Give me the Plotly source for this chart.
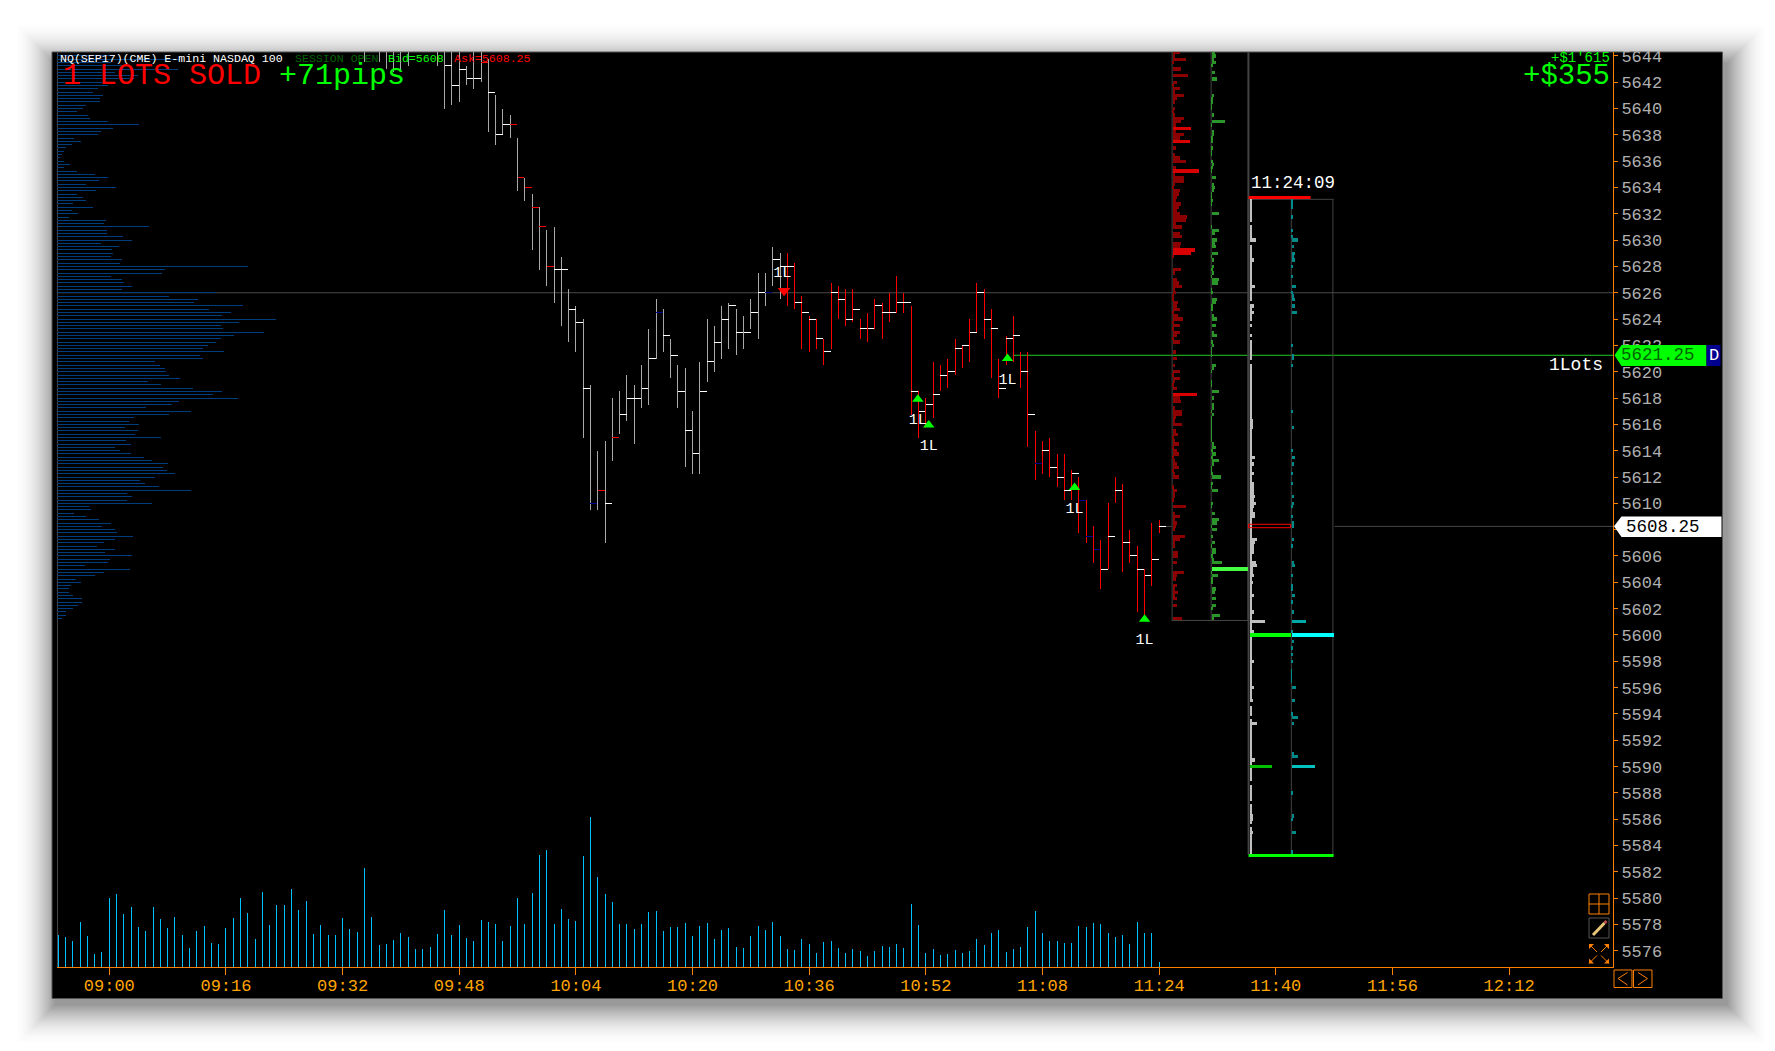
import plotly.graph_objects as go

# ---------- data ----------
TITLE = "NQ(SEP17)(CME) E-mini NASDAQ 100"
XTICK_MIN = [0, 16, 32, 48, 64, 80, 96, 112, 128, 144, 160, 176, 192]
XTICK_LBL = ["09:00", "09:16", "09:32", "09:48", "10:04", "10:20", "10:36", "10:52", "11:08", "11:24", "11:40", "11:56", "12:12"]
YTICKS = [5644, 5642, 5640, 5638, 5636, 5634, 5632, 5630, 5628, 5626, 5624, 5622, 5620, 5618, 5616, 5614, 5612, 5610, 5608,
          5606, 5604, 5602, 5600, 5598, 5596, 5594, 5592, 5590, 5588, 5586, 5584, 5582, 5580, 5578, 5576]

# minutes after 09:00
BAR_MIN = [35, 37, 38, 39, 40, 41, 45] + list(range(46, 145))
BAR_HIGH = [5646, 5646, 5646, 5646, 5646, 5646, 5646,
    5646, 5646, 5646, 5643.25, 5646, 5646, 5643.75, 5641, 5640, 5639.5, 5637.75, 5634.75, 5633.5, 5632.5, 5630.75, 5631,
    5628.75, 5626.25, 5625, 5624, 5619, 5614, 5614.75, 5618, 5618.5, 5619.75, 5619, 5620.5, 5623.25, 5625.5, 5624.75,
    5622.5, 5620.5, 5620.25, 5617, 5620.75, 5624, 5623.5, 5625, 5625.25, 5624.75, 5624.25, 5625.5, 5627.5, 5627.5, 5629.5,
    5629, 5629, 5628.25, 5625.75, 5624.25, 5624, 5622.5, 5626.75, 5626.5, 5626.25, 5626.25, 5624, 5624.5, 5625.5, 5625.25,
    5626, 5627.25, 5626, 5625, 5618.5, 5618, 5620.75, 5620.5, 5621, 5622.5, 5622, 5624, 5626.75, 5626.25, 5624.75, 5621,
    5622.75, 5624.25, 5621.5, 5621.5, 5615.5, 5614.75, 5615, 5613.75, 5613.75, 5612.5, 5612, 5610.25, 5608.25, 5607.25,
    5610, 5612, 5611.5, 5608, 5606.75, 5605, 5608.5, 5608.75]
BAR_LOW = [5643.5, 5643.5, 5643, 5642.75, 5642.75, 5643.25, 5643.25,
    5640, 5640.25, 5640.5, 5641.75, 5641.5, 5642, 5638.25, 5637.25, 5638, 5637.75, 5633.75, 5633, 5629.25, 5627.75, 5626.5,
    5625.25, 5623.5, 5622.25, 5621.5, 5615, 5609.5, 5609.5, 5607, 5613.25, 5615.25, 5616.25, 5614.5, 5617.25, 5617.5, 5621,
    5621.5, 5619.5, 5617.25, 5612.75, 5612.25, 5612.25, 5619.25, 5620, 5621, 5621.75, 5621.25, 5621.75, 5623.25, 5622.5,
    5625, 5626.5, 5625.5, 5625, 5624.75, 5621.75, 5621.5, 5621.75, 5620.5, 5621.75, 5624, 5623.5, 5623.75, 5622.5, 5622.25,
    5623.25, 5622.5, 5623.75, 5624.5, 5624.5, 5616.75, 5615, 5615.75, 5616.5, 5618.5, 5618.75, 5619.75, 5620.25, 5620.75,
    5623, 5622.5, 5619.5, 5618, 5620.5, 5620.75, 5618.75, 5614.25, 5611.75, 5612.25, 5612, 5611.25, 5610.25, 5610.25,
    5607.75, 5607, 5605.5, 5603.5, 5605, 5610, 5604.75, 5605.5, 5601.75, 5601.25, 5603.75, 5607.75]
BAR_CLOSE = [5645, 5645, 5645, 5645, 5645, 5645, 5645,
    5643.25, 5641.75, 5643, 5642.25, 5642.25, 5643.5, 5641.25, 5638, 5638.75, 5638.75, 5634.75, 5634, 5632.5, 5631, 5628,
    5627.75, 5627.75, 5624.75, 5623.75, 5618.75, 5610, 5611, 5610, 5615, 5616.75, 5618, 5618, 5618.75, 5621, 5624.5, 5622.75,
    5621.25, 5618.5, 5615.5, 5613.75, 5618.5, 5620.75, 5622.25, 5624, 5625, 5623, 5623, 5624.5, 5626, 5626, 5628.5, 5628,
    5628, 5625.25, 5624.5, 5624, 5622.5, 5621.5, 5626, 5625.5, 5624, 5624.75, 5623.25, 5623.25, 5625, 5624.5, 5624.5, 5625.25,
    5625.25, 5618.5, 5617, 5617.5, 5618.25, 5619.75, 5620, 5621.75, 5622, 5623, 5626, 5624, 5623.25, 5618.75, 5622.5, 5622.75,
    5620, 5616.75, 5613, 5614, 5612.75, 5612, 5611, 5612.25, 5610.25, 5607.5, 5606.5, 5605, 5607.5, 5611, 5607, 5606, 5605,
    5604.5, 5605.75, 5608.25]
RED_CLOSE_MIN = [51, 55, 56, 57, 58, 59, 60, 67, 69]
BLUE_CLOSE_MIN = [66, 75, 90, 127, 133, 134, 135]
RED_BAR_FROM_MIN = 93

VOL_FIRST_MIN = -7
VOLUME = [96, 90, 78, 135, 93, 39, 45, 207, 219, 159, 180, 120, 108, 180, 144, 117, 150, 96, 57, 108, 123, 72, 69, 117, 147, 207,
    162, 84, 225, 126, 186, 186, 234, 171, 198, 99, 126, 96, 96, 147, 114, 105, 297, 150, 66, 69, 81, 102, 90, 54, 54, 60, 99, 171,
    96, 126, 87, 78, 141, 135, 129, 78, 123, 207, 129, 222, 336, 351, 129, 174, 144, 138, 333, 450, 270, 219, 195, 129, 129, 114,
    129, 165, 168, 108, 120, 120, 132, 93, 123, 132, 84, 111, 117, 60, 57, 93, 123, 111, 135, 93, 54, 51, 84, 69, 42, 75, 78, 57,
    42, 54, 48, 33, 48, 63, 60, 69, 57, 189, 126, 42, 54, 36, 39, 51, 42, 48, 84, 66, 102, 111, 45, 54, 60, 120, 168, 102, 78, 78,
    72, 72, 123, 120, 132, 129, 102, 90, 96, 69, 135, 102, 102, 15]

# session volume profile, one value per 0.25 price row
SESSION_TOP = 5644.0
SESSION_PROFILE = [175, 370, 163, 209, 364, 175, 243, 230, 154, 154, 124, 109, 137, 130, 130, 88, 79, 61, 94, 100, 154, 245, 169, 133,
    124, 52, 73, 44, 28, 20, 15, 8, 22, 40, 22, 61, 113, 154, 127, 88, 176, 118, 59, 79, 88, 49, 109, 46, 64, 37, 148, 142, 277,
    151, 151, 199, 226, 133, 187, 166, 169, 163, 196, 190, 574, 325, 316, 163, 196, 202, 226, 196, 478,
    337, 424, 412, 559, 457, 523, 496, 658, 547, 493, 499, 622, 532, 493, 478, 454, 439, 502, 430, 439, 295, 310, 325, 328, 337,
    370, 274, 313, 409, 496, 469, 544, 367, 346, 268, 403, 337, 232, 217, 247, 205, 244, 235, 313, 208, 223, 175, 190, 223, 262,
    286, 334, 319, 331, 355, 295, 250, 265, 307, 403, 211, 226, 211, 286, 97, 103, 52, 88, 127, 163, 136, 175, 181, 229, 175, 142,
    121, 175, 145, 226, 160, 154, 85, 220, 142, 115, 58, 73, 43, 37, 37, 49, 76, 76, 64, 49, 28, 28, 16]

PREV_TOP = 5644.25
PREV_SELL = [22, 8, 39, 4, 0, 24, 0, 45, 0, 12, 4, 21, 8, 33, 12, 6, 0, 6, 4, 8, 33, 24, 9, 54, 9, 33, 21, 51, 0, 10,
    0, 6, 21, 39, 0, 10, 78, 6, 33, 33, 6, 5, 21, 18, 12, 9, 24, 18, 12, 21, 42, 39, 9, 27, 0, 21, 27, 0, 24, 21,
    66, 54, 3, 0, 0, 0, 24, 6, 0, 12, 18, 27, 6, 9, 3, 3, 15, 12, 21, 3, 15, 30, 3, 21, 3, 21, 12, 3, 21, 0,
    0, 10, 0, 12, 0, 6, 0, 21, 3, 21, 6, 3, 12, 0, 72, 21, 24, 0, 6, 27, 27, 9, 6, 27, 0, 9, 15, 3, 6, 18,
    3, 12, 18, 3, 6, 12, 18, 3, 6, 18, 0, 0, 3, 12, 6, 6, 3, 0, 39, 0, 6, 21, 6, 12, 9, 6, 0, 36, 21, 6,
    6, 0, 15, 15, 0, 12, 0, 0, 33, 12, 9, 0, 12, 6, 15, 6, 12, 0, 12, 0, 0, 0, 27]
PREV_BUY = [9, 12, 6, 12, 3, 0, 9, 0, 15, 0, 0, 0, 0, 6, 3, 2, 1, 1, 0, 6, 0, 39, 1, 0, 6, 6, 2, 3, 0, 3,
    1, 1, 0, 3, 6, 3, 1, 0, 12, 0, 6, 9, 6, 1, 1, 3, 1, 0, 0, 21, 0, 0, 0, 1, 21, 9, 0, 15, 9, 12,
    0, 18, 1, 6, 0, 6, 3, 6, 1, 21, 18, 0, 1, 3, 0, 15, 12, 3, 3, 0, 6, 15, 0, 12, 0, 6, 15, 0, 3, 6,
    1, 1, 1, 0, 0, 12, 6, 1, 0, 0, 1, 1, 0, 21, 0, 6, 0, 6, 6, 1, 6, 1, 1, 1, 1, 1, 1, 1, 1, 6,
    12, 3, 12, 3, 21, 6, 1, 1, 3, 27, 0, 3, 1, 18, 0, 0, 0, 3, 1, 0, 9, 0, 21, 15, 1, 15, 0, 3, 0, 9,
    1, 12, 12, 3, 6, 30, 0, 108, 1, 18, 3, 3, 0, 12, 9, 0, 12, 0, 12, 3, 0, 24, 6]

CUR_TOP = 5633.0
CUR_TOTAL = [6, 6, 6, 6, 6, 6, 6, 0, 6, 6, 6, 6, 18, 0, 6, 6, 6, 6, 12, 6, 6, 6, 6, 6, 6, 6, 15, 6, 6, 6, 6, 0, 12, 6, 12, 6, 6, 0, 6,
    0, 0, 6, 0, 6, 6, 6, 6, 6, 6, 0, 6, 6, 6, 6, 6, 6, 6, 6, 6, 6, 6, 6, 6, 6, 6, 6, 6, 9, 9, 9, 6, 6, 6, 6, 6, 6, 6, 6, 15, 6, 12, 6, 6,
    12, 6, 6, 12, 12, 12, 12, 15, 12, 18, 12, 9, 15, 15, 6, 6, 6, 6, 6, 6, 21, 15, 12, 12, 12, 6, 6, 18, 21, 9, 9, 12, 6, 9, 6, 6, 6, 12,
    6, 6, 6, 6, 12, 6, 6, 45, 6, 6, 12, 123, 6, 6, 6, 6, 6, 6, 6, 12, 6, 6, 6, 6, 6, 6, 6, 12, 6, 6, 6, 9, 0, 6, 6, 6, 0, 6, 21,
    6, 6, 6, 6, 6, 6, 6, 6, 6, 6, 15, 6, 66, 6, 6, 6, 6, 0, 6, 6, 6, 6, 6, 0, 6, 6, 6, 9, 9, 6, 0, 6, 9, 6, 6, 6, 6, 6, 6, 6]
CUR_BUY_PRICE = [5633, 5632.75, 5632.5, 5631.75, 5630.75, 5630.25, 5630, 5629.5, 5629, 5628.75, 5628.5, 5628, 5627.25, 5626.5, 5626,
    5625.75, 5625.5, 5625, 5624.5, 5622, 5621.25, 5621, 5620.5, 5617, 5615.75, 5614, 5613.5, 5613, 5612.25, 5611.5, 5610.5, 5610,
    5609.75, 5609, 5608.5, 5608.25, 5607.25, 5606.75, 5605.5, 5605.25, 5604.5, 5603.75, 5603.5, 5603, 5602.5, 5601.75, 5601, 5600.25,
    5600, 5599.5, 5599, 5598.5, 5598, 5597.25, 5597, 5596.75, 5596.5, 5596, 5595, 5594, 5593.75, 5593.25, 5591, 5590.75, 5590, 5588,
    5586.25, 5586, 5585, 5583.5]
CUR_BUY = [3, 3, 3, 3, 3, 3, 18, 6, 9, 6, 9, 3, 3, 12, 3, 6, 9, 9, 15, 3, 6, 6, 3, 3, 6, 3, 9, 6, 3, 3, 6, 6,
    3, 3, 6, 6, 6, 3, 6, 9, 3, 3, 3, 9, 3, 6, 42, 3, 126, 6, 3, 3, 3, 1, 1, 1, 1, 12, 9, 3, 18, 6, 6, 18, 69, 3, 6, 3, 12, 3]

BUY_MARK_MIN = [110.9, 112.4, 123.2, 132.4, 142]
BUY_MARK_PRICE = [5617.9, 5615.95, 5621, 5611.2, 5601.2]
LOT_LABEL_MIN = [110.9, 112.4, 123.2, 132.4, 142, 92.3]
LOT_LABEL_PRICE = [5616.3, 5614.35, 5619.35, 5609.56, 5599.6, 5627.5]
SELL_MARK_MIN = [92.55]
SELL_MARK_PRICE = [5626.15]
ENTRY_PRICE = 5621.25
LAST_PRICE = 5608.25
REF_PRICE = 5626

# ---------- layout constants ----------
W, H = 1775, 1051
L, R, T, B = 57.0, 1613.5, 52.0, 967.0
PW, PH = R - L, B - T
FONT = "Liberation Mono"
def xp(x): return (x - L) / PW
def yp(y): return (B - y) / PH
def x3(x): return (x - L) * 3

ROW = 0.25
traces = []

def segments(x_pairs, y_pairs):
    xs, ys = [], []
    for (a, b), (c, d) in zip(x_pairs, y_pairs):
        xs += [a, b, None]
        ys += [c, d, None]
    return xs, ys

def seg_trace(x_pairs, y_pairs, color, xa="x", ya="y"):
    xs, ys = segments(x_pairs, y_pairs)
    traces.append(go.Scatter(x=xs, y=ys, mode="lines", line=dict(color=color, width=1, simplify=False),
                             xaxis=xa, yaxis=ya, hoverinfo="skip", connectgaps=False))

# session profile
rows = [SESSION_TOP - i * ROW for i in range(len(SESSION_PROFILE))]
seg_trace([(0, v) for v in SESSION_PROFILE], [(p, p) for p in rows], "#003D7D", xa="x3")

# order-flow profiles
def prof(vals, top, base_px, colors):
    prices = [top - i * ROW for i in range(len(vals))]
    traces.append(go.Bar(orientation="h", x=vals, y=prices, base=x3(base_px), width=ROW,
        marker=dict(color=colors, line_width=0), xaxis="x3", yaxis="y", hoverinfo="skip"))

prof(PREV_SELL, PREV_TOP, 1173, ["#D80000" if v >= 50 else "#8B0000" for v in PREV_SELL])
prof(PREV_BUY, PREV_TOP, 1212, ["#44FF44" if v >= 100 else "#2A962A" for v in PREV_BUY])
prof(CUR_TOTAL, CUR_TOP, 1250, ["#00FF00" if v >= 100 else "#00BE00" if v == 66 else "#C0C0C0" for v in CUR_TOTAL])
cur_cols = ["#00FFFF" if v >= 100 else "#00C0C0" if v >= 60 else "#00A8A8" if v >= 40 else "#008B8B" for v in CUR_BUY]
traces.append(go.Bar(orientation="h", x=CUR_BUY, y=CUR_BUY_PRICE, base=x3(1292), width=ROW,
    marker=dict(color=cur_cols, line_width=0), xaxis="x3", yaxis="y", hoverinfo="skip"))

# volume
vm = [VOL_FIRST_MIN + i for i in range(len(VOLUME))]
seg_trace([(m, m) for m in vm], [(0, v) for v in VOLUME], "#00BFFF", ya="y2")

# price bars
for color, test in (("#A8A8A8", lambda m: m < RED_BAR_FROM_MIN), ("#FF0000", lambda m: m >= RED_BAR_FROM_MIN)):
    idx = [i for i, m in enumerate(BAR_MIN) if test(m)]
    seg_trace([(BAR_MIN[i], BAR_MIN[i]) for i in idx], [(BAR_LOW[i], BAR_HIGH[i]) for i in idx], color)
for color, test in (("#FFFFFF", lambda m: m not in RED_CLOSE_MIN and m not in BLUE_CLOSE_MIN),
                    ("#FF0000", lambda m: m in RED_CLOSE_MIN), ("#000090", lambda m: m in BLUE_CLOSE_MIN)):
    idx = [i for i, m in enumerate(BAR_MIN) if test(m)]
    seg_trace([(BAR_MIN[i], BAR_MIN[i] + 0.95) for i in idx], [(BAR_CLOSE[i], BAR_CLOSE[i]) for i in idx], color)

# trade markers
traces.append(go.Scatter(x=BUY_MARK_MIN, y=BUY_MARK_PRICE, mode="markers",
    marker=dict(symbol="triangle-up", size=10, color="#00FF00", line_width=0), xaxis="x", yaxis="y", hoverinfo="skip"))
traces.append(go.Scatter(x=SELL_MARK_MIN, y=SELL_MARK_PRICE, mode="markers",
    marker=dict(symbol="triangle-down", size=11, color="#FF0000", line_width=0), xaxis="x", yaxis="y", hoverinfo="skip"))
traces.append(go.Scatter(x=LOT_LABEL_MIN, y=LOT_LABEL_PRICE, mode="text", text=["1L"] * len(LOT_LABEL_MIN),
    textfont=dict(family=FONT, size=15, color="#FFFFFF"), xaxis="x", yaxis="y", hoverinfo="skip"))

fig = go.Figure(traces)

# ---------- shapes ----------
shapes = []
# soft drop shadow
N = 40
for i in range(N):
    g = 48 * (1 - i / N)
    a = 0.0004 + 0.03 * (i / N) ** 1.6
    shapes.append(dict(type="rect", xref="paper", yref="paper", layer="below", x0=xp(56 - g), x1=xp(1727 + g),
        y0=yp(64 - g), y1=yp(1004 + g), line_width=0, fillcolor=f"rgba(0,0,0,{a:.4f})"))
shapes.append(dict(type="rect", xref="paper", yref="paper", layer="below", x0=xp(52), x1=xp(1723), y0=yp(52), y1=yp(998.5),
    line=dict(color="#555555", width=1), fillcolor="#000000"))

def hline(p, x0, x1, color, width=1):
    shapes.append(dict(type="line", xref="x3", yref="y", layer="below", x0=x3(x0), x1=x3(x1), y0=p, y1=p,
                       line=dict(color=color, width=width)))
def vline(x, p0, p1, color="#444444", width=1):
    shapes.append(dict(type="line", xref="x3", yref="y", layer="below", x0=x3(x), x1=x3(x), y0=p0, y1=p1,
                       line=dict(color=color, width=width)))
YTOP, YBOT = 5644.293, 5574.77
vline(57.5, YTOP, YBOT)
hline(REF_PRICE, 57, R, "#4A4A4A")
hline(ENTRY_PRICE, 1013, R, "#22CC22")
hline(LAST_PRICE, 1335, R, "#4A4A4A")
hline(LAST_PRICE, 1160, 1172, "#4A4A4A")
vline(1172.5, YTOP, 5601.1)
vline(1211.5, YTOP, 5601.1)
vline(1248.8, YTOP, 5601.1, width=2)
hline(5601.1, 1172, 1249, "#444444")
vline(1249, 5633.1, 5583.3, width=2)
vline(1291.7, 5633.1, 5583.3)
vline(1333.3, 5633.1, 5583.3)
hline(5633.1, 1249, 1334, "#444444")
hline(5583.3, 1249, 1334, "#444444")

def above(s): shapes.append(dict(layer="above", **s))
def path(points, close=False):
    s = "M " + " L ".join(f"{xp(x):.5f} {yp(y):.5f}" for x, y in points)
    return s + (" Z" if close else "")
def poly(points, fill=None, line=None, width=1):
    above(dict(type="path", xref="paper", yref="paper", path=path(points, fill is not None),
               fillcolor=fill if fill else "rgba(0,0,0,0)", line=dict(color=line if line else "rgba(0,0,0,0)", width=width if line else 0)))
# current-session caps and last-price marker
poly([(1249, 197.5), (1311, 197.5)], line="#FF0000", width=3)
poly([(1249, 855.5), (1334, 855.5)], line="#00FF00", width=3)
poly([(1249, 524.3), (1291, 524.3), (1291, 527.7), (1249, 527.7), (1249, 524.3)], line="#FF0000", width=1)
# price tags
poly([(1615, 355.3), (1622, 345), (1707, 345), (1707, 366), (1622, 366)], fill="#00FF00")
poly([(1707, 345), (1721, 345), (1721, 366), (1707, 366)], fill="#000090")
poly([(1614.5, 526.3), (1622, 516.5), (1722, 516.5), (1722, 537), (1622, 537)], fill="#FFFFFF")
# tool icons
O = "#FF8000"
poly([(1589.5, 894), (1609.5, 894), (1609.5, 914), (1589.5, 914), (1589.5, 894)], line=O)
poly([(1599.5, 894), (1599.5, 914)], line=O)
poly([(1589.5, 904), (1609.5, 904)], line=O)
poly([(1589.5, 918), (1609.5, 918), (1609.5, 938), (1589.5, 938), (1589.5, 918)], line="#555555")
poly([(1593.5, 935), (1605, 923)], line="#E8C878", width=3)
poly([(1605, 923), (1607, 921)], line="#C05050", width=3)
for cx, cy, dx, dy in [(1589.5, 944, 1, 1), (1609.5, 944, -1, 1), (1589.5, 963.5, 1, -1), (1609.5, 963.5, -1, -1)]:
    poly([(cx, cy), (cx + 5 * dx, cy), (cx, cy + 5 * dy)], fill=O)
    poly([(cx, cy), (cx + 8 * dx, cy + 8 * dy)], line=O)
poly([(1614.5, 970), (1632.5, 970), (1632.5, 987.5), (1614.5, 987.5), (1614.5, 970)], line=O)
poly([(1634, 970), (1652.5, 970), (1652.5, 987.5), (1634, 987.5), (1634, 970)], line=O)
poly([(1628, 972.5), (1618.5, 978.5), (1628, 985)], line=O)
poly([(1638.5, 972.5), (1648, 978.5), (1638.5, 985)], line=O)

# ---------- texts ----------
ann = []
def label(text, x, y, size, color, anchor="left"):
    ann.append(dict(text=text, xref="paper", yref="paper", x=xp(x), y=yp(y), xanchor=anchor, yanchor="middle", showarrow=False,
                    font=dict(family=FONT, size=size, color=color), align=anchor))
label(TITLE, 58, 58, 11.6, "#FFFFFF")
label("SESSION OPEN", 293, 58, 11.6, "#006400")
label("Bid=5608", 386, 58, 11.6, "#00FF00")
label("Ask=5608.25", 452, 58, 11.6, "#FF0000")
label("1 LOTS SOLD", 61, 76, 30, "#FF0000")
label("+71pips", 277, 76, 30, "#00FF00")
label("+$1'615", 1612, 58, 14, "#00FF00", "right")
label("+$355", 1612, 76, 29, "#00FF00", "right")
label("1Lots", 1547, 365, 18, "#FFFFFF")
label("11:24:09", 1249.5, 183, 17.5, "#FFFFFF")
label("5621.25", 1620, 355.5, 17.5, "#006400")
label("D", 1708, 355.5, 17, "#FFFFFF")
label("5608.25", 1625, 526.5, 17.5, "#000000")

fig.update_layout(
    width=W, height=H, autosize=False, showlegend=False, barmode="overlay", bargap=0,
    paper_bgcolor="#FFFFFF", plot_bgcolor="#000000",
    margin=dict(l=L, r=W - R, t=T, b=H - B, pad=0),
    xaxis=dict(range=[(L - 109.3) / 7.293, (R - 109.3) / 7.293], tickmode="array", tickvals=XTICK_MIN, ticktext=XTICK_LBL,
        showgrid=False, zeroline=False, showline=True, linecolor=O, linewidth=1, ticks="outside", ticklen=7, tickcolor=O, tickwidth=1,
        tickangle=0, ticklabelstandoff=-4, tickfont=dict(family=FONT, size=17, color="#FFA500"), anchor="y"),
    yaxis=dict(range=[YBOT, YTOP], side="right", tickmode="array", tickvals=YTICKS, ticktext=[str(v) for v in YTICKS],
        showgrid=False, zeroline=False, showline=True, linecolor=O, linewidth=1, ticks="outside", ticklen=4, tickcolor=O, tickwidth=1,
        tickfont=dict(family=FONT, size=17, color="#B0B0B0"), anchor="x"),
    xaxis3=dict(range=[0, PW * 3], overlaying="x", visible=False, anchor="y"),
    yaxis2=dict(range=[0, PH * 3], overlaying="y", visible=False, anchor="x"),
    shapes=shapes, annotations=ann,
)

POST = ("document.body.style.margin='0';document.documentElement.style.overflow='hidden';"
        "var s=document.createElement('style');"
        "s.textContent='.scatterlayer .js-line{shape-rendering:crispEdges}';document.head.appendChild(s);")
fig.write_html("out.html", post_script=POST, config={"displayModeBar": False})
